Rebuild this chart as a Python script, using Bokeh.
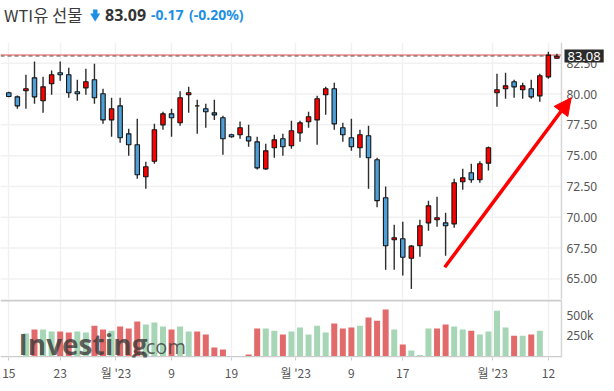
from bokeh.plotting import figure
from bokeh.layouts import column
from bokeh.models import (ColumnDataSource, Range1d, FixedTicker, Grid, Span, Label,
                          Arrow, NormalHead)
from bokeh.core.properties import value
from bokeh.embed import file_html
from bokeh.resources import INLINE
import numpy as np

# ---------------- data ----------------
opens = [80.10, 79.77, 80.26, 81.31, 79.45, 80.83, 81.72, 81.56, 80.18, 80.50,
         81.15, 80.02, 77.90, 79.04, 76.77, 75.88, 73.29, 74.55, 77.50, 78.39,
         77.67, 79.94, 79.04, 78.80, 78.47, 78.07, 76.70, 76.69, 76.53, 76.12,
         73.93, 75.64, 76.37, 75.80, 76.85, 77.75, 77.90, 79.94, 80.42, 77.26,
         76.45, 75.64, 76.61, 74.67, 71.58, 68.18, 68.26, 66.68, 67.69, 69.55,
         69.80, 69.55, 69.47, 72.88, 73.61, 73.04, 74.39, 80.10, 80.42, 80.99,
         80.34, 80.42, 79.85, 81.39, 82.90]
highs = [80.18, 79.88, 81.56, 82.64, 81.39, 81.90, 82.64, 82.12, 81.15, 82.04,
         82.45, 80.42, 79.70, 79.70, 77.18, 77.99, 74.50, 77.58, 78.56, 78.80,
         80.23, 80.58, 79.53, 79.20, 79.53, 78.23, 76.77, 77.77, 77.50, 76.53,
         75.96, 76.69, 76.77, 77.83, 77.83, 78.56, 79.85, 80.58, 80.91, 77.66,
         77.99, 77.10, 77.42, 74.83, 72.50, 69.39, 69.64, 67.75, 69.80, 71.34,
         71.66, 70.37, 73.12, 73.93, 74.34, 74.55, 75.74, 81.64, 81.72, 81.15,
         80.91, 81.15, 81.64, 83.42, 83.26]
lows = [79.74, 78.80, 78.80, 79.20, 78.47, 79.94, 81.07, 79.70, 79.45, 79.94,
        79.20, 77.58, 76.53, 76.04, 74.99, 73.12, 72.31, 74.34, 77.10, 76.53,
        77.42, 78.47, 76.77, 77.26, 77.90, 75.07, 76.45, 76.37, 75.72, 73.87,
        73.85, 74.83, 74.99, 75.56, 76.12, 77.26, 75.88, 78.31, 77.10, 76.12,
        75.39, 74.83, 72.31, 70.82, 65.74, 65.74, 65.28, 64.19, 66.80, 68.91,
        69.23, 66.88, 69.15, 72.23, 72.80, 72.80, 73.80, 78.96, 79.61, 79.69,
        79.61, 79.61, 79.37, 81.23, 82.85]
closes = [79.80, 79.04, 80.42, 79.77, 80.58, 81.56, 81.56, 80.10, 80.02, 80.99,
          79.70, 77.90, 78.80, 76.45, 75.88, 73.45, 74.10, 77.10, 78.39, 78.07,
          79.69, 80.10, 79.04, 78.56, 78.31, 76.37, 76.53, 77.26, 76.20, 74.01,
          75.39, 76.28, 75.72, 77.02, 77.66, 78.15, 79.61, 80.42, 77.58, 76.69,
          75.72, 76.69, 74.83, 71.35, 67.69, 68.34, 66.76, 67.66, 69.31, 70.93,
          69.96, 69.31, 72.80, 73.20, 73.04, 74.34, 75.64, 80.34, 80.66, 80.58,
          80.66, 79.77, 81.48, 83.15, 83.06]
volumes = [None, None, 277, 326, 326, 301, 301, 289, 301, 289,
           374, 326, 313, 362, 338, 423, 387, 411, 362, 326,
           362, 301, 301, 265, 106, 82, None, None, 21, 338,
           338, 313, 265, 301, 350, 265, 374, 289, 399, 338,
           350, 374, 472, 435, 570, 326, 143, 70, 15, 338,
           338, 387, 362, 326, 313, 265, 301, 557, 350, 252,
           252, 265, 313, None, None]  # thousands
volume_side = ["", "", "G", "R", "G", "G", "R", "R", "G", "G",
               "R", "R", "G", "R", "R", "R", "G", "G", "G", "R",
               "G", "G", "R", "R", "R", "R", "", "", "R", "R",
               "G", "G", "R", "G", "G", "G", "G", "G", "R", "R",
               "R", "G", "R", "R", "R", "G", "R", "G", "G", "G",
               "R", "R", "G", "G", "R", "G", "G", "G", "G", "R",
               "G", "R", "G", "", ""]

price_ticks = [65.0, 67.5, 70.0, 72.5, 75.0, 77.5, 80.0, 82.5]
date_tick_pos = [0, 6, 12.5, 19, 26, 33.5, 40, 46, 56.5, 63]
date_tick_labels = ["15", "23", "월 '23", "9", "19", "월 '23", "9", "17", "월 '23", "12"]
vol_ticks = [250000, 500000]
vol_tick_labels = ["250k", "500k"]

title_name = "WTI유 선물"
last_price = "83.09"
change_abs = "-0.17"
change_pct = "(-0.20%)"
last_close_level = 83.08
high_line_level = 83.17
arrow_from = (50.9, 65.95)
arrow_to = (65.66, 79.69)

# ---------------- styling ----------------
UP = "#ff0000"
DOWN = "#4d9fd8"
VOL_UP = "#a6d6b6"
VOL_DOWN = "#e26a6a"
GRID = "#f1f1f1"
AXIS = "#d6d6d6"
LABEL = "#555555"
FONT = "Noto Sans"
KFONT = "Noto Sans CJK KR"

n = len(opens)
xs = list(range(n))
o = np.array(opens); c = np.array(closes)
src = ColumnDataSource(dict(
    x=xs, high=highs, low=lows,
    top=np.maximum(o, c), bottom=np.minimum(o, c),
    color=[UP if cc >= oo else DOWN for oo, cc in zip(opens, closes)],
))
vsrc = ColumnDataSource(dict(
    x=xs,
    top=np.array([np.nan if v is None else v * 1000.0 for v in volumes]),
    color=[VOL_UP if s == "G" else VOL_DOWN for s in volume_side],
))

x_range = Range1d(-0.969, 70.72)   # 8.565 px per session, full width
AXIS_X = 64.53                      # where the right price axis sits

# ---------------- title strip ----------------
t = figure(width=614, height=42, x_range=Range1d(0, 614), y_range=Range1d(42, 0),
           toolbar_location=None, output_backend="svg",
           x_axis_location=None, y_axis_location=None,
           min_border=0, outline_line_color=None)
t.grid.visible = False
t.text(x=[3.5], y=[14], text=[title_name], text_font=value(KFONT),
       text_font_size="16.5px", text_color="#3a3a3a", text_baseline="middle")
t.patch(x=[92.7, 96.7, 96.7, 99.3, 94.7, 90.1, 92.7],
        y=[9.3, 9.3, 13.3, 13.3, 20.7, 13.3, 13.3],
        fill_color="#1e8fe6", line_color="#1e8fe6", line_width=0.5)
t.text(x=[104.5], y=[14.2], text=[last_price], text_font=value(FONT),
       text_font_size="16px", text_font_style="bold", text_color="#333333",
       text_baseline="middle")
t.text(x=[150.5, 188.5], y=[14.4, 14.4], text=[change_abs, change_pct],
       text_font=value(FONT), text_font_size="14px", text_font_style="bold",
       text_color="#1e8fe6", text_baseline="middle")

# ---------------- price panel ----------------
p = figure(width=614, height=257, x_range=x_range, y_range=Range1d(63.333, 84.177),
           toolbar_location=None, output_backend="svg",
           x_axis_location=None, y_axis_location=None,
           min_border=0, outline_line_color=None)
p.grid.visible = False
p.add_layout(Grid(dimension=0, ticker=FixedTicker(ticks=date_tick_pos),
                  grid_line_color=GRID, grid_line_width=1.5))
p.segment(x0=x_range.start, x1=AXIS_X, y0=price_ticks, y1=price_ticks,
          line_color=GRID, line_width=1.5)
p.add_layout(Span(location=AXIS_X, dimension="height", line_color=AXIS, line_width=1.5))
p.text(x=[AXIS_X] * len(price_ticks), y=price_ticks,
       text=[f"{tk:.2f}" for tk in price_ticks], x_offset=5,
       text_font=value(FONT), text_font_size="12px", text_color=LABEL,
       text_baseline="middle")

p.segment(x0=x_range.start, x1=AXIS_X, y0=high_line_level, y1=high_line_level,
          line_color="#f5a3a3", line_width=2)
p.segment(x0=x_range.start, x1=AXIS_X, y0=last_close_level, y1=last_close_level,
          line_color="#555555", line_width=1, line_dash="4 3")

p.segment(x0="x", y0="high", x1="x", y1="low", source=src,
          line_color="#2d2d2d", line_width=1.4)
p.vbar(x="x", top="top", bottom="bottom", width=0.52, source=src,
       fill_color="color", line_color="#151515", line_width=1.1)

p.add_layout(Label(x=AXIS_X, y=last_close_level, text=f"{last_close_level:.2f}",
                   x_offset=3, text_align="left", text_baseline="middle",
                   text_color="white", text_font=FONT, text_font_size="13px",
                   background_fill_color="#2b2b2b",
                   padding=dict(left=3, right=3, top=2, bottom=2)))

p.add_layout(Arrow(end=NormalHead(size=17, fill_color="#ff0000", line_color="#ff0000"),
                   x_start=arrow_from[0], y_start=arrow_from[1],
                   x_end=arrow_to[0], y_end=arrow_to[1],
                   line_color="#ff0000", line_width=3.5))

# ---------------- volume panel ----------------
PX = 250000 / 20.5   # volume units per pixel
v = figure(width=614, height=92, x_range=x_range,
           y_range=Range1d(-1.2 * PX, 56.8 * PX),
           toolbar_location=None, output_backend="svg",
           x_axis_location="below", y_axis_location=None,
           min_border_left=0, min_border_right=0, min_border_top=0, min_border_bottom=34,
           outline_line_color=None)
v.xgrid.grid_line_color = GRID
v.xgrid.grid_line_width = 1.5
v.ygrid.visible = False
v.vbar(x="x", top="top", bottom=0, width=0.7, source=vsrc,
       fill_color="color", line_color=None)

# panel frame lines
v.segment(x0=x_range.start, x1=AXIS_X, y0=55.8 * PX, y1=55.8 * PX,
          line_color="#cccccc", line_width=2)
v.segment(x0=x_range.start, x1=AXIS_X, y0=-0.45 * PX, y1=-0.45 * PX,
          line_color="#cccccc", line_width=1.5)
v.add_layout(Span(location=AXIS_X, dimension="height", line_color=AXIS, line_width=1.5))
v.text(x=[AXIS_X] * len(vol_ticks), y=vol_ticks, text=vol_tick_labels, x_offset=5,
       text_font=value(FONT), text_font_size="12px", text_color=LABEL,
       text_baseline="middle")

v.xaxis.ticker = FixedTicker(ticks=date_tick_pos)
v.xaxis.major_label_overrides = {(int(tp) if float(tp).is_integer() else tp): lab
                                 for tp, lab in zip(date_tick_pos, date_tick_labels)}
v.xaxis.axis_line_color = None
v.xaxis.major_tick_line_color = "#cccccc"
v.xaxis.major_tick_out = 3
v.xaxis.major_tick_in = 0
v.xaxis.minor_tick_line_color = None
v.xaxis.major_label_text_color = LABEL
v.xaxis.major_label_text_font = KFONT
v.xaxis.major_label_text_font_size = "12px"
v.xaxis.major_label_standoff = 3

# watermark
v.text(x=[1.13], y=[12.5 * PX], text=["Investing"], text_font=value("Open Sans"),
       text_font_size="28px", text_font_style="bold", text_color="#383838",
       text_alpha=0.78, text_baseline="middle")
v.text(x=[15.38], y=[9.6 * PX], text=[".com"], text_font=value("Open Sans"),
       text_font_size="20px", text_color="#383838", text_alpha=0.78,
       text_baseline="middle")

layout = column(t, p, v)
open("out.html", "w").write(file_html(layout, INLINE))
